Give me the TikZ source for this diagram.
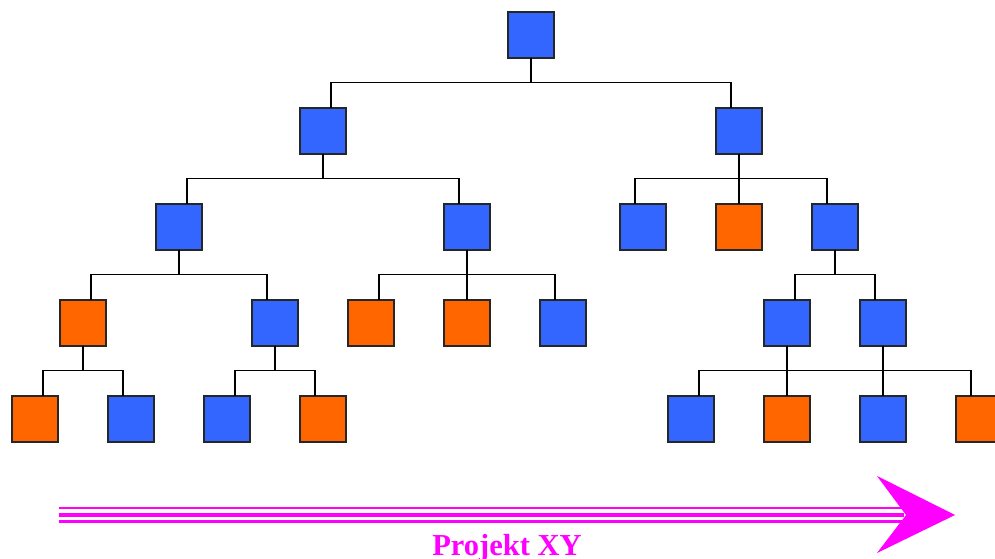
\documentclass[tikz,border=0pt]{standalone}
\usepackage{fontspec}
\setmainfont{Liberation Serif}
\definecolor{boxblue}{HTML}{3366FF}
\definecolor{boxorange}{HTML}{FF6600}
\definecolor{arrowmag}{HTML}{FF00FF}
\begin{document}
\begin{tikzpicture}[x=1pt,y=-1pt,
  unit/.style={draw=black!85, line width=2pt, minimum size=46.5pt, inner sep=0pt, outer sep=0pt},
  blu/.style={unit, fill=boxblue},
  org/.style={unit, fill=boxorange},
  link/.style={draw=black, line width=1.4pt}]
\useasboundingbox (0,0) rectangle (995,559);
\clip (0,0) rectangle (995,559);

% tree boxes
\node[blu] (r)    at (531,35) {};
\node[blu] (a)    at (323,131) {};
\node[blu] (b)    at (739,131) {};
\node[blu] (a1)   at (179,227) {};
\node[blu] (a2)   at (467,227) {};
\node[blu] (b1)   at (643,227) {};
\node[org] (b2)   at (739,227) {};
\node[blu] (b3)   at (835,227) {};
\node[org] (a11)  at (83,323) {};
\node[blu] (a12)  at (275,323) {};
\node[org] (a21)  at (371,323) {};
\node[org] (a22)  at (467,323) {};
\node[blu] (a23)  at (563,323) {};
\node[blu] (b31)  at (787,323) {};
\node[blu] (b32)  at (883,323) {};
\node[org] (a111) at (35,419) {};
\node[blu] (a112) at (131,419) {};
\node[blu] (a121) at (227,419) {};
\node[org] (a122) at (323,419) {};
\node[blu] (b311) at (691,419) {};
\node[org] (b312) at (787,419) {};
\node[blu] (b321) at (883,419) {};
\node[org] (b322) at (979,419) {};

% orthogonal connectors: parent down to a bus, then across and down to the child
\foreach \p/\c/\dx in {r/a/8, r/b/-8,
                       a/a1/8, a/a2/-8,
                       b/b1/-8, b/b2/0, b/b3/-8,
                       a1/a11/8, a1/a12/-8,
                       a2/a21/8, a2/a22/0, a2/a23/-8,
                       b3/b31/8, b3/b32/-8,
                       a11/a111/8, a11/a112/-8,
                       a12/a121/8, a12/a122/-8,
                       b31/b311/8, b31/b312/0,
                       b32/b312/0, b32/b321/0, b32/b322/-8}
  \draw[link] (\p.south) -- ++(0,24) -| ([xshift=\dx pt]\c.north);

% project arrow
\coordinate (s) at (59,515);
\coordinate (e) at (904,515);
\draw[arrowmag, line width=2.3pt] ([yshift=-6.5pt]s) -- ([yshift=-6.5pt]e);
\draw[arrowmag, line width=4.6pt] (s) -- (e);
\draw[arrowmag, line width=2.5pt] ([yshift=7pt]s) -- ([yshift=7pt]e);
\fill[arrowmag] (955,515) -- (877,476) -- (906,515) -- (877,553) -- cycle;

\node[anchor=base, text=arrowmag, font=\fontsize{30.5}{30.5}\selectfont\bfseries, inner sep=0pt] (lbl) at (507,555) {Projekt XY};
\end{tikzpicture}
\end{document}
